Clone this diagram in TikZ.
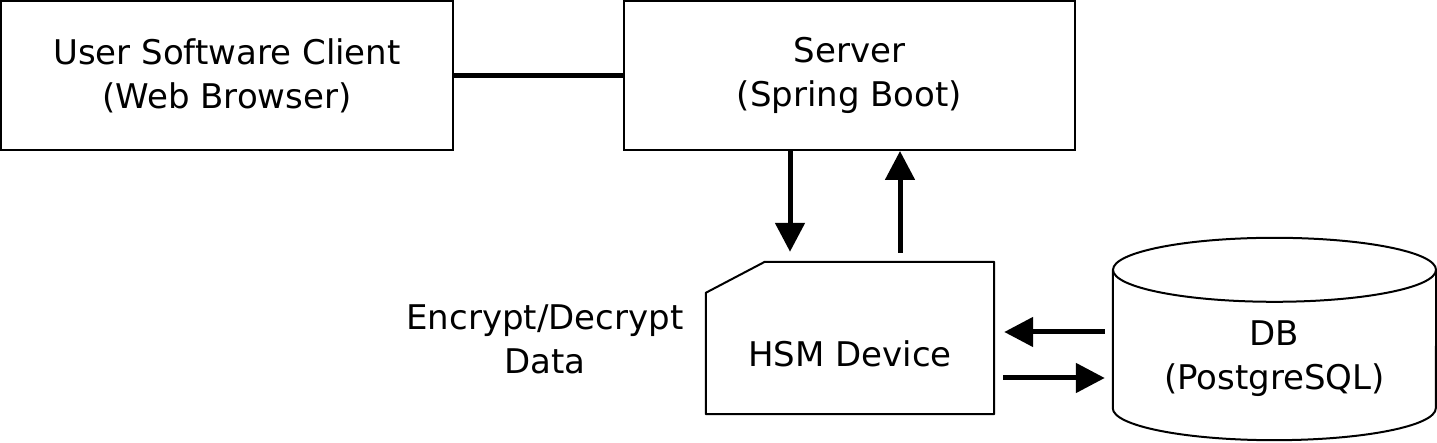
\documentclass[tikz,border=0pt]{standalone}
\usepackage{fontspec}
\setmainfont{DejaVu Sans}
\usetikzlibrary{arrows.meta,calc}
\begin{document}
\begin{tikzpicture}[x=1pt,y=1pt,
  box/.style={draw,line width=2pt,minimum width=#1,minimum height=149pt,inner sep=0pt,align=center,font=\fontsize{34}{44}\selectfont},
  shapeonly/.style={inner sep=0pt,minimum width=#1},
  txt/.style={align=center,font=\fontsize{34}{44}\selectfont,inner sep=0pt},
  link/.style={line width=5pt},
  arr/.style={line width=5pt,-{Triangle[length=29pt,width=29pt]}}]
\useasboundingbox (0,0) rectangle (1437,443);
\node[box=452pt] (client) at (227,367.5) {User Software Client\\(Web Browser)};
\node[box=451pt] (server) at (849.5,367.5) {Server\\(Spring Boot)};
\node[shapeonly=288pt,minimum height=152pt] (hsm) at (850,105) {};
\draw[line width=2pt,line join=round] (hsm.south west) -- ($(hsm.north west)+(0,-31)$) -- ($(hsm.north west)+(59,0)$) -- (hsm.north east) -- (hsm.south east) -- cycle;
\node[txt] (hsmtext) at (850,89) {HSM Device};
\node[shapeonly=323pt,minimum height=202pt] (db) at (1274.5,104) {};
\draw[line width=2pt] ($(db.north)+(0,-32)$) ellipse[x radius=161.5, y radius=32];
\draw[line width=2pt] ($(db.north west)+(0,-32)$) -- ($(db.south west)+(0,32)$)
  arc[start angle=180,end angle=360,x radius=161.5,y radius=32] -- ($(db.north east)+(0,-32)$);
\node[txt] (dbtext) at (1274.5,84) {DB\\(PostgreSQL)};
\node[txt] (enc) at (545,104) {Encrypt/Decrypt\\Data};
\draw[link] (client.east) -- (server.west);
\draw[arr] ([xshift=-59.5pt]server.south) -- ([xshift=-60pt,yshift=10pt]hsm.north);
\draw[arr] ([xshift=50pt,yshift=9pt]hsm.north) -- ([xshift=50.5pt]server.south);
\draw[arr] ($(db.west)+(-8,7)$) -- ($(hsm.east)+(10,6)$);
\draw[arr] ($(hsm.east)+(9,-40)$) -- ($(db.west)+(-8,-39)$);
\end{tikzpicture}
\end{document}
